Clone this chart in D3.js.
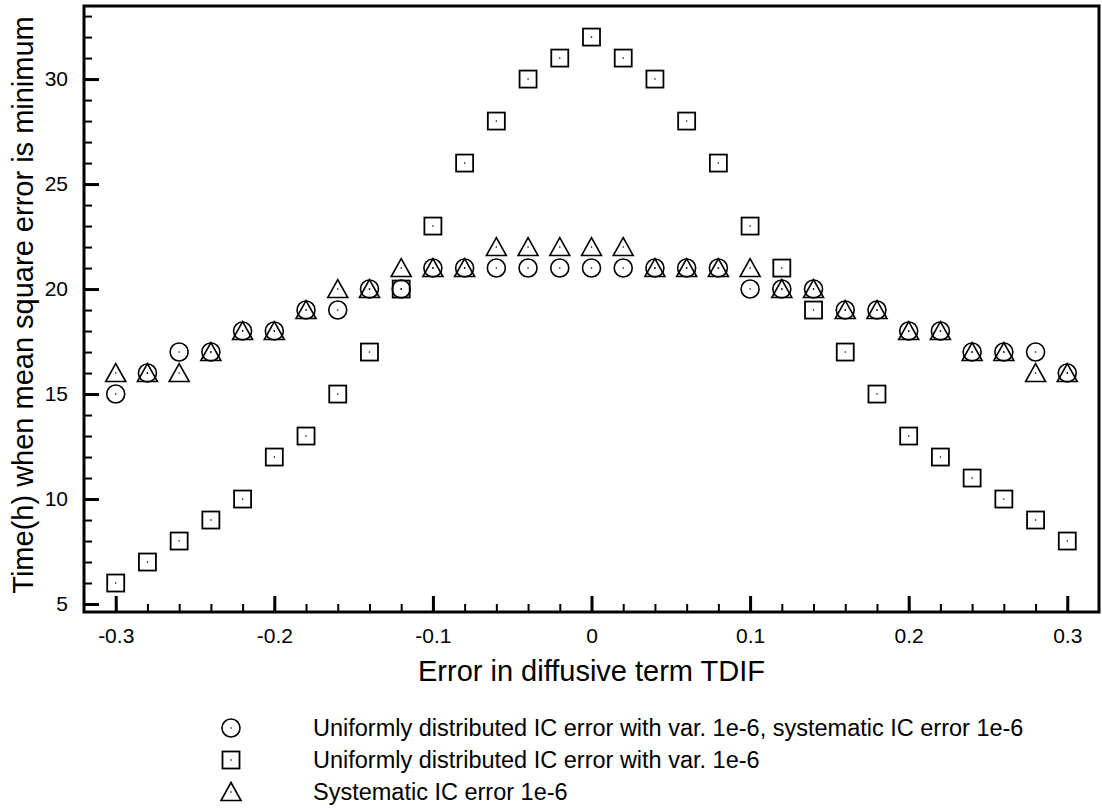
<!DOCTYPE html>
<html>
<head>
<meta charset="utf-8">
<script src="https://cdn.jsdelivr.net/npm/d3@7"></script>
<style>
  html, body { margin: 0; padding: 0; background: #fff; }
  svg { display: block; font-family: "Liberation Sans", Arial, Helvetica, sans-serif; }
</style>
</head>
<body>
<svg id="chart" width="1102" height="809"></svg>
<script>
// Error in diffusive term TDIF (x values)
const tdif = [-0.3, -0.28, -0.26, -0.24, -0.22, -0.2, -0.18, -0.16, -0.14, -0.12, -0.1,
              -0.08, -0.06, -0.04, -0.02, 0, 0.02, 0.04, 0.06, 0.08, 0.1,
              0.12, 0.14, 0.16, 0.18, 0.2, 0.22, 0.24, 0.26, 0.28, 0.3];

// Time (h) at which the mean square error is minimum, per experiment
const uniformAndSystematic = [15, 16, 17, 17, 18, 18, 19, 19, 20, 20, 21,
                              21, 21, 21, 21, 21, 21, 21, 21, 21, 20,
                              20, 20, 19, 19, 18, 18, 17, 17, 17, 16];
const uniformOnly = [6, 7, 8, 9, 10, 12, 13, 15, 17, 20, 23,
                     26, 28, 30, 31, 32, 31, 30, 28, 26, 23,
                     21, 19, 17, 15, 13, 12, 11, 10, 9, 8];
const systematicOnly = [16, 16, 16, 17, 18, 18, 19, 20, 20, 21, 21,
                        21, 22, 22, 22, 22, 22, 21, 21, 21, 21,
                        20, 20, 19, 19, 18, 18, 17, 17, 16, 16];

const seriesLabels = [
  "Uniformly distributed IC error with var. 1e-6, systematic IC error 1e-6",
  "Uniformly distributed IC error with var. 1e-6",
  "Systematic IC error 1e-6"
];
const xTickLabels = [-0.3, -0.2, -0.1, 0, 0.1, 0.2, 0.3];
const yTickLabels = [5, 10, 15, 20, 25, 30];

const svg = d3.select("#chart");

const plotLeft = 84, plotRight = 1099, plotTop = 6, plotBottom = 612;
const x = d3.scaleLinear().domain([-0.32, 0.32]).range([plotLeft, plotRight]);
const y = d3.scaleLinear().domain([4.62, 33.48]).range([plotBottom, plotTop]);

const symbolSize = { circle: 9, square: 8.5, triangle: 10 };

function drawMarker(g, shape, cx, cy) {
  const s = g.append("g").attr("transform", `translate(${cx},${cy})`);
  if (shape === "circle") {
    s.append("circle").attr("r", symbolSize.circle)
      .attr("fill", "none").attr("stroke", "#000").attr("stroke-width", 1.6);
  } else if (shape === "square") {
    const h = symbolSize.square;
    s.append("rect").attr("x", -h).attr("y", -h).attr("width", 2 * h).attr("height", 2 * h)
      .attr("fill", "none").attr("stroke", "#000").attr("stroke-width", 1.8);
  } else {
    const w = symbolSize.triangle;
    s.append("path").attr("d", `M0,${-9.5} L${w},${8.5} L${-w},${8.5} Z`)
      .attr("fill", "none").attr("stroke", "#000").attr("stroke-width", 1.6)
      .attr("stroke-linejoin", "miter");
  }
  s.append("circle").attr("r", 0.8).attr("fill", "#000");
}

// Axis frame
svg.append("rect").attr("x", plotLeft).attr("y", plotTop)
  .attr("width", plotRight - plotLeft).attr("height", plotBottom - plotTop)
  .attr("fill", "none").attr("stroke", "#000").attr("stroke-width", 3);

const labelFont = "'Liberation Sans', Arial, Helvetica, sans-serif";

// X axis: inward ticks, minor every 0.02, major every 0.1
const xMinor = d3.range(-15, 16).map(i => i / 50);
const xAxisMinor = d3.axisBottom(x).tickValues(xMinor).tickSize(-8).tickFormat("");
const xAxisMajor = d3.axisBottom(x).tickValues(xTickLabels).tickSize(-16)
  .tickPadding(16).tickFormat(d => d === 0 ? "0" : d.toFixed(1));

[xAxisMinor, xAxisMajor].forEach((ax, i) => {
  const g = svg.append("g").attr("transform", `translate(0,${plotBottom})`).call(ax);
  g.select(".domain").remove();
  g.selectAll(".tick line").attr("stroke", "#000").attr("stroke-width", i ? 3 : 2);
  g.selectAll(".tick text").attr("font-size", 21).attr("fill", "#000")
    .attr("font-family", labelFont);
});

// Y axis: inward ticks, minor every 1, major every 5
const yMinor = d3.range(5, 34);
const yAxisMinor = d3.axisLeft(y).tickValues(yMinor).tickSize(-8).tickFormat("");
const yAxisMajor = d3.axisLeft(y).tickValues(yTickLabels).tickSize(-15)
  .tickPadding(16).tickFormat(d => String(d));

[yAxisMinor, yAxisMajor].forEach((ax, i) => {
  const g = svg.append("g").attr("transform", `translate(${plotLeft},0)`).call(ax);
  g.select(".domain").remove();
  g.selectAll(".tick line").attr("stroke", "#000").attr("stroke-width", i ? 3 : 2);
  g.selectAll(".tick text").attr("font-size", 21).attr("fill", "#000")
    .attr("font-family", labelFont);
});

// Axis titles
svg.append("text").attr("x", x(0)).attr("y", 681)
  .attr("text-anchor", "middle").attr("font-size", 29).attr("fill", "#000")
  .text("Error in diffusive term TDIF");

svg.append("text")
  .attr("transform", `translate(33,305) rotate(-90)`)
  .attr("text-anchor", "middle").attr("font-size", 29).attr("fill", "#000")
  .text("Time(h) when mean square error is minimum");

// Scatter markers
const series = [
  { shape: "circle", values: uniformAndSystematic },
  { shape: "square", values: uniformOnly },
  { shape: "triangle", values: systematicOnly }
];
const marks = svg.append("g");
series.forEach(s => {
  s.values.forEach((v, i) => drawMarker(marks, s.shape, x(tdif[i]), y(v)));
});

// Legend
const legend = svg.append("g");
series.forEach((s, i) => {
  const ly = 728 + i * 32;
  drawMarker(legend, s.shape, 231, ly);
  legend.append("text").attr("x", 313).attr("y", ly).attr("dy", "0.35em")
    .attr("font-size", 23.5).attr("fill", "#000").text(seriesLabels[i]);
});
</script>
</body>
</html>
